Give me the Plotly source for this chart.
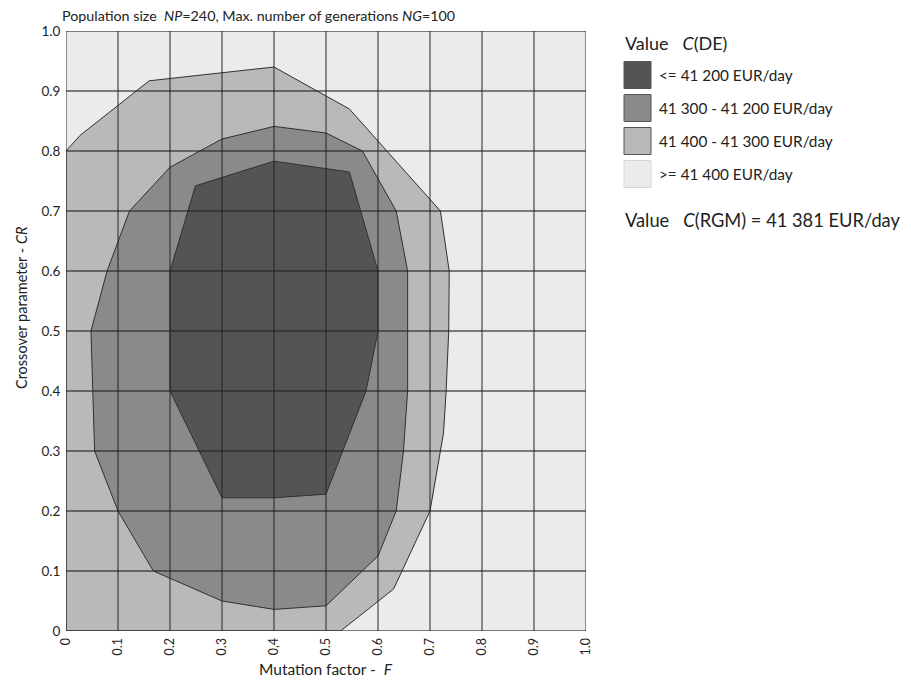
import plotly.graph_objects as go

# ---------------- data ----------------
tick_vals = [0, 0.1, 0.2, 0.3, 0.4, 0.5, 0.6, 0.7, 0.8, 0.9, 1.0]
x_tick_text = ["0", "0.1", "0.2", "0.3", "0,4", "0.5", "0.6", "0.7", "0.8", "0.9", "1.0"]
y_tick_text = ["0", "0.1", "0.2", "0.3", "0.4", "0.5", "0.6", "0.7", "0.8", "0.9", "1.0"]

# region 41 400 - 41 300 EUR/day (outer)
outer_F = [0, 0.027, 0.16, 0.40, 0.545, 0.72, 0.737, 0.736, 0.731, 0.726, 0.70, 0.63, 0.528, 0, 0]
outer_CR = [0.80, 0.826, 0.917, 0.94, 0.87, 0.70, 0.60, 0.50, 0.40, 0.33, 0.20, 0.07, 0, 0, 0.80]

# region 41 300 - 41 200 EUR/day (middle)
mid_F = [0.122, 0.20, 0.30, 0.40, 0.50, 0.57, 0.635, 0.657, 0.657, 0.657, 0.649, 0.635, 0.60, 0.50,
         0.40, 0.30, 0.168, 0.10, 0.055, 0.048, 0.079, 0.122]
mid_CR = [0.70, 0.773, 0.82, 0.841, 0.83, 0.80, 0.70, 0.60, 0.50, 0.40, 0.30, 0.20, 0.125, 0.042,
          0.036, 0.05, 0.10, 0.20, 0.30, 0.50, 0.60, 0.70]

# region <= 41 200 EUR/day (inner)
inner_F = [0.20, 0.249, 0.40, 0.545, 0.60, 0.60, 0.577, 0.50, 0.40, 0.30, 0.20, 0.20]
inner_CR = [0.60, 0.742, 0.783, 0.765, 0.60, 0.50, 0.40, 0.228, 0.222, 0.222, 0.40, 0.60]

legend_labels = ["<= 41 200 EUR/day", "41 300 - 41 200 EUR/day",
                 "41 400 - 41 300 EUR/day", ">= 41 400 EUR/day"]
legend_colors = ["#545454", "#8a8a8a", "#b9b9b9", "#ebebeb"]

# ---------------- figure ----------------
W, H = 911, 680
OFF = 8  # page body margin
L, T = 66 - OFF, 31 - OFF
pw, ph = 520, 600
R, B = W - L - pw, H - T - ph


def px(x):
    return (x - OFF - L) / pw


def py(y):
    return (T + OFF + ph - y) / ph


fig = go.Figure()
for fx, fy, col in [(outer_F, outer_CR, legend_colors[2]),
                    (mid_F, mid_CR, legend_colors[1]),
                    (inner_F, inner_CR, legend_colors[0])]:
    fig.add_trace(go.Scatter(x=fx, y=fy, mode="lines", fill="toself", fillcolor=col,
                             line=dict(color="#303030", width=1), hoverinfo="skip",
                             showlegend=False))

grid_col = "rgba(35,35,35,0.75)"
for v in tick_vals:
    fig.add_shape(type="line", x0=v, x1=v, y0=0, y1=1, xref="x", yref="y",
                  line=dict(color=grid_col, width=1.3), layer="above")
    fig.add_shape(type="line", x0=0, x1=1, y0=v, y1=v, xref="x", yref="y",
                  line=dict(color=grid_col, width=1.3), layer="above")

FONT = "Lato, 'Open Sans', sans-serif"
TXT = "#222"

# custom legend
fig.add_annotation(text="Value   <i>C</i>(DE)", xref="paper", yref="paper",
                   x=px(623), y=py(43), xanchor="left", yanchor="middle",
                   showarrow=False, font=dict(size=18, color=TXT, family=FONT))
for i, (lab, col) in enumerate(zip(legend_labels, legend_colors)):
    yc = 75 + 33 * i
    border = "#555" if i < 3 else "#d6d6d6"
    fig.add_shape(type="rect", xref="paper", yref="paper",
                  x0=px(624), x1=px(651), y0=py(yc - 13.5), y1=py(yc + 13.5),
                  fillcolor=col, line=dict(color=border, width=1))
    fig.add_annotation(text=lab, xref="paper", yref="paper",
                       x=px(657), y=py(yc), xanchor="left", yanchor="middle",
                       showarrow=False, font=dict(size=15.3, color=TXT, family=FONT))
fig.add_annotation(text="Value   <i>C</i>(RGM) = 41 381 EUR/day", xref="paper", yref="paper",
                   x=px(623), y=py(220), xanchor="left", yanchor="middle",
                   showarrow=False, font=dict(size=18.3, color=TXT, family=FONT))

# title
fig.add_annotation(text="Population size  <i>NP</i>=240, Max. number of generations <i>NG</i>=100",
                   xref="paper", yref="paper", x=px(60), y=py(15), xanchor="left",
                   yanchor="middle", showarrow=False,
                   font=dict(size=14.3, color=TXT, family=FONT))

# axis titles
fig.add_annotation(text="Mutation factor -  <i>F</i>", xref="paper", yref="paper",
                   x=px(326), y=py(669), xanchor="center", yanchor="middle",
                   showarrow=False, font=dict(size=15.5, color=TXT, family=FONT))
fig.add_annotation(text="Crossover parameter - <i>CR</i>", xref="paper", yref="paper",
                   x=px(21), y=py(308), xanchor="center", yanchor="middle", textangle=-90,
                   showarrow=False, font=dict(size=14.5, color=TXT, family=FONT))

fig.update_layout(
    width=W, height=H,
    margin=dict(l=L, r=R, t=T, b=B, pad=0),
    paper_bgcolor="white", plot_bgcolor="#ebebeb",
    showlegend=False,
    font=dict(family=FONT, color=TXT),
    xaxis=dict(range=[0, 1], tickvals=tick_vals, ticktext=x_tick_text, tickangle=-90,
               showgrid=False, zeroline=False, showline=False,
               ticks="outside", ticklen=1, tickcolor="rgba(0,0,0,0)",
               tickfont=dict(size=12.5, color=TXT), fixedrange=True, automargin=False),
    yaxis=dict(range=[0, 1], tickvals=tick_vals, ticktext=y_tick_text,
               showgrid=False, zeroline=False, showline=False,
               ticks="outside", ticklen=2, tickcolor="rgba(0,0,0,0)",
               tickfont=dict(size=13.5, color=TXT), fixedrange=True, automargin=False),
)

fig.write_html("out.html")
